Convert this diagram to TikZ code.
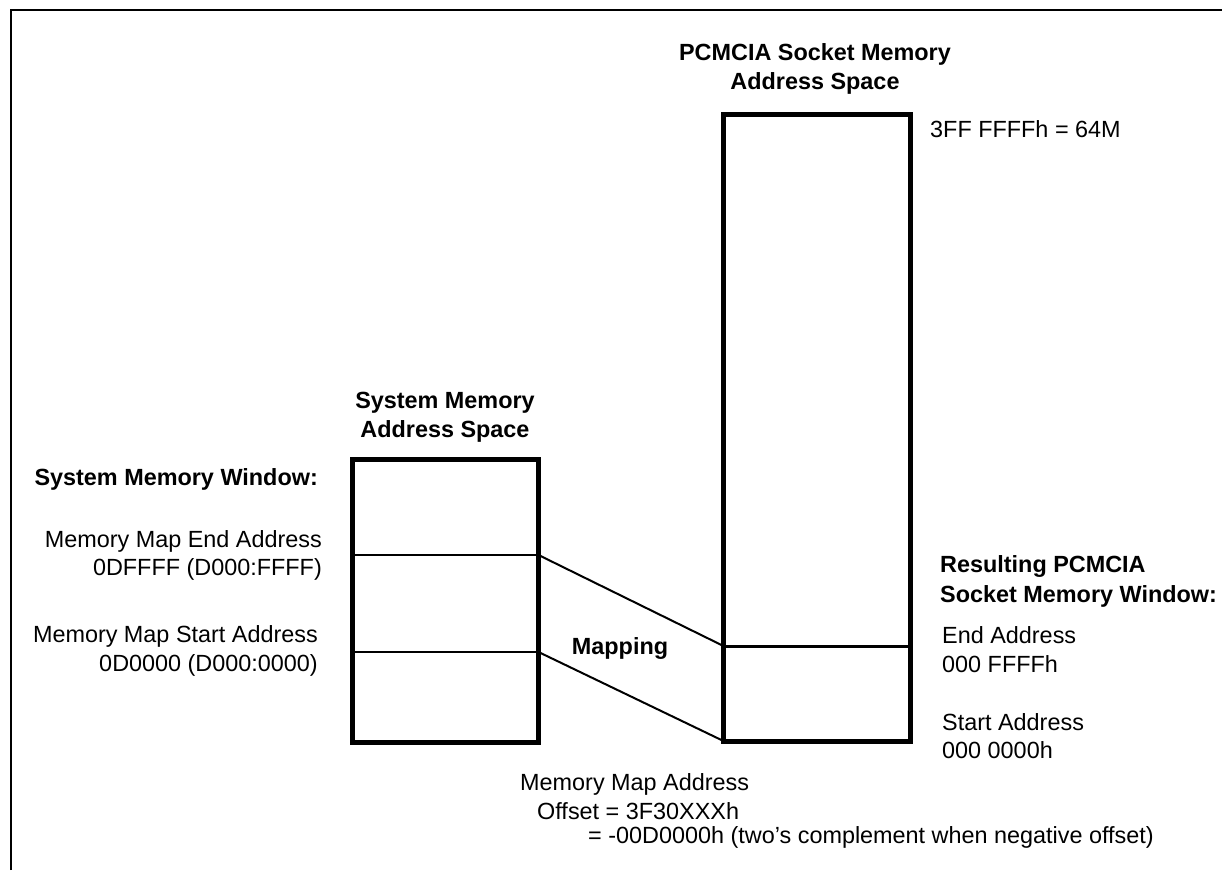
\documentclass[tikz,border=0pt]{standalone}
\usepackage{fontspec}
\setmainfont{Liberation Sans}
\begin{document}
\begin{tikzpicture}[x=1pt,y=-1pt,
  txt/.style={inner sep=0pt, font=\fontsize{23.4}{28.5}\selectfont},
  ttl/.style={inner sep=0pt, align=center, font=\fontsize{23.4}{28.5}\selectfont\bfseries},
  membox/.style={draw, line width=5pt, rectangle, inner sep=0pt},
  divthin/.style={line width=1.6pt},
  divthick/.style={line width=3pt},
  mapline/.style={line width=2pt},
  frame/.style={line width=2.5pt}]
\useasboundingbox (0,0) rectangle (1222,870);
% frame
\coordinate (fbl) at (11,870);
\coordinate (ftl) at (11,10);
\coordinate (ftr) at (1222,10);
\draw[frame] (fbl) -- (ftl) -- (ftr);

% boxes
\node[membox, minimum width=186.5pt, minimum height=282.5pt] (sys) at (445.25,600.75) {};
\node[membox, minimum width=187pt, minimum height=627pt] (pc) at (817,427.5) {};

% division coordinates
\coordinate (sEL) at (352,555);
\coordinate (sER) at (538.5,555);
\coordinate (sSL) at (352,652);
\coordinate (sSR) at (538.5,652);
\coordinate (pEL) at (723.5,646);
\coordinate (pER) at (910.5,646);
\coordinate (pSL) at (723.5,741);

\draw[divthin] (sEL) -- (sER);
\draw[divthin] (sSL) -- (sSR);
\draw[divthick] (pEL) -- (pER);
\draw[mapline] (sER) -- (pEL);
\draw[mapline] (sSR) -- (pSL);

% titles
\node[ttl] (pctitle) at (815,69) {PCMCIA Socket Memory\\Address Space};
\node[ttl] (systitle) at (445,417.5) {System Memory\\Address Space};
\node[txt, anchor=west] (top) at (930,129) {3FF FFFFh = 64M};

% left labels
\node[txt, anchor=east, font=\fontsize{23.4}{28.5}\selectfont\bfseries] (smw) at (318,479) {System Memory Window:};
\node[txt, anchor=east, align=right] (mend) at (322,555.5) {Memory Map End Address\\0DFFFF (D000:FFFF)};
\node[txt, anchor=east, align=right] (mstart) at (318,651) {Memory Map Start Address\\0D0000 (D000:0000)};

\node[ttl] (mapping) at (620,648) {Mapping};

% right labels
\node[txt, anchor=west, align=left, font=\fontsize{23.4}{30}\selectfont\bfseries] (res) at (940,581) {Resulting PCMCIA\\Socket Memory Window:};
\node[txt, anchor=west, align=left] (pend) at (942,649.5) {End Address\\000 FFFFh};
\node[txt, anchor=west, align=left] (pstart) at (942,736) {Start Address\\000 0000h};

% bottom
\node[txt, anchor=west] (mma) at (520,784) {Memory Map Address};
\node[txt, anchor=west] (off) at (537,811) {Offset = 3F30XXXh};
\node[txt, anchor=west] (neg) at (588,837) {= -00D0000h (two’s complement when negative offset)};
\end{tikzpicture}
\end{document}
